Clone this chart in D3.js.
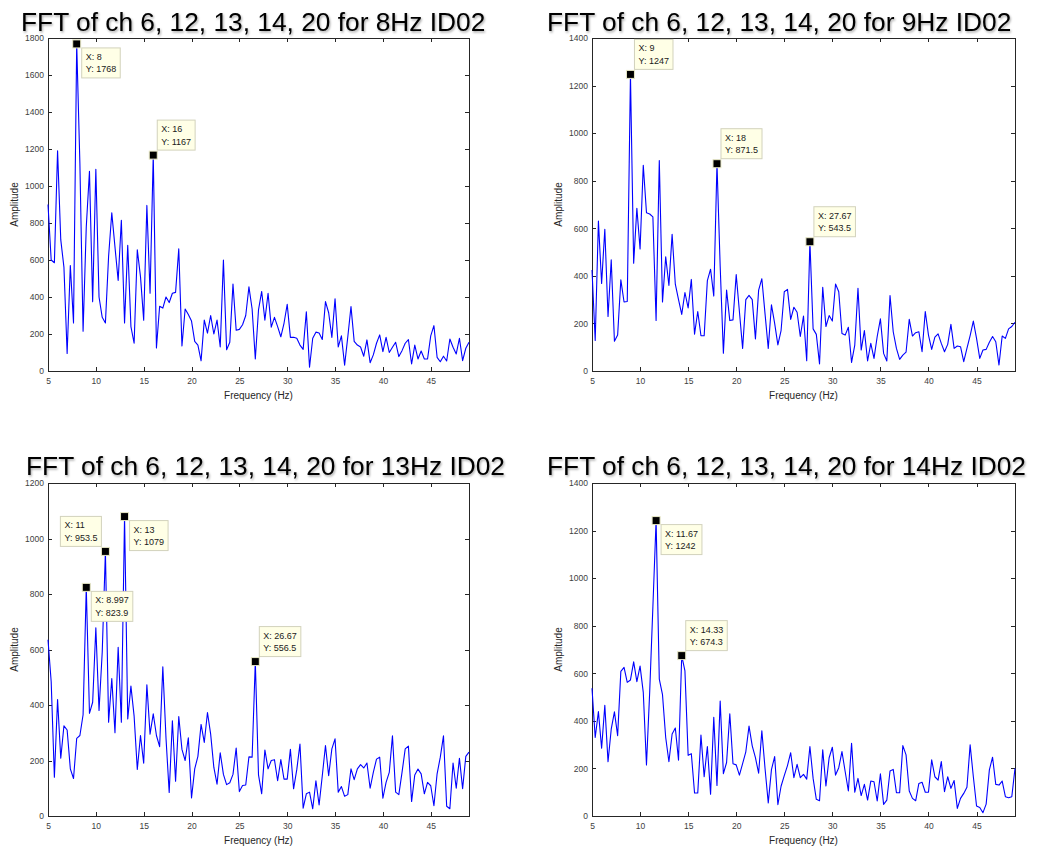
<!DOCTYPE html>
<html lang="en">
<head>
<meta charset="UTF-8">
<title>FFT of ch 6, 12, 13, 14, 20 - ID02</title>
<script src="https://cdn.jsdelivr.net/npm/d3@7/dist/d3.min.js"></script>
<style>
    body { margin:0; background:#fff; }
    .axis path { display:none; }
    .axis line { stroke:#262626; shape-rendering:crispEdges; }
    .axis text { font-family: Arial, "Liberation Sans", sans-serif; font-size:8.5px; fill:#404040; }
    .frame { fill:none; stroke:#262626; shape-rendering:crispEdges; }
    .title { font-family: Arial, "Liberation Sans", sans-serif; font-size:26.3px; fill:#000; }
    .label { font-family: Arial, "Liberation Sans", sans-serif; font-size:10px; fill:#262626; }
    .tip text { font-family: Arial, "Liberation Sans", sans-serif; font-size:9px; fill:#1a1a1a; }
</style>
</head>
<body>
<svg id="chart" width="1039" height="848"></svg>
<script>
// frequency grid: 5 .. 49 Hz in 1/3 Hz bins
var freqStart = 5, freqStep = 1 / 3;
var xTicks = [5, 10, 15, 20, 25, 30, 35, 40, 45];

var amp8Hz = [900, 600, 585, 1190, 710, 560, 95, 570, 260, 1768,
    1120, 215, 780, 1080, 375, 1090, 400, 290, 260, 620,
    855, 670, 490, 815, 260, 680, 240, 150, 655, 510,
    275, 895, 420, 1167, 125, 350, 340, 400, 370, 420,
    425, 660, 135, 335, 305, 270, 160, 140, 55, 275,
    205, 300, 200, 275, 130, 600, 115, 155, 470, 220,
    225, 250, 300, 455, 335, 65, 330, 430, 275, 420,
    237, 290, 240, 185, 258, 360, 182, 182, 177, 140,
    117, 320, 20, 177, 210, 205, 170, 375, 315, 182,
    390, 130, 190, 32, 185, 348, 160, 140, 130, 80,
    168, 45, 87, 150, 195, 105, 182, 100, 128, 155,
    78, 110, 150, 170, 38, 140, 65, 108, 65, 65,
    190, 245, 74, 50, 80, 54, 173, 128, 92, 177,
    56, 123, 155];

var amp9Hz = [425, 128, 630, 368, 596, 229, 467, 125, 151, 383,
    290, 292, 1247, 453, 684, 513, 865, 665, 660, 648,
    212, 885, 290, 480, 360, 575, 365, 300, 238, 330,
    265, 385, 155, 250, 148, 148, 380, 428, 315, 871.5,
    440, 75, 340, 212, 215, 405, 250, 95, 300, 318,
    300, 135, 340, 388, 240, 95, 278, 200, 110, 170,
    333, 343, 217, 268, 247, 145, 231, 43, 543.5, 177,
    154, 30, 352, 187, 233, 210, 366, 333, 158, 151,
    184, 36, 109, 348, 88, 170, 42, 116, 53, 145,
    219, 74, 42, 317, 165, 95, 49, 67, 79, 217,
    147, 161, 165, 81, 250, 151, 91, 142, 156, 116,
    81, 112, 196, 95, 105, 102, 39, 95, 149, 210,
    137, 53, 88, 91, 121, 145, 123, 25, 147, 137,
    177, 187, 205];

var amp13Hz = [635, 484, 140, 420, 208, 325, 310, 170, 135, 280,
    290, 365, 823.9, 370, 410, 678, 380, 590, 953.5, 338,
    495, 300, 608, 338, 1079, 350, 468, 360, 168, 290,
    190, 473, 295, 368, 290, 250, 538, 280, 85, 343,
    125, 358, 240, 200, 282, 65, 170, 215, 330, 265,
    373, 295, 175, 115, 228, 150, 113, 120, 150, 245,
    88, 110, 112, 213, 212, 556.5, 148, 80, 238, 170,
    200, 203, 127, 203, 133, 133, 240, 98, 167, 259,
    28, 80, 86, 26, 127, 40, 145, 254, 145, 242,
    278, 86, 106, 71, 77, 170, 131, 170, 185, 173,
    191, 100, 157, 205, 212, 64, 121, 157, 289, 86,
    77, 157, 242, 252, 52, 148, 169, 152, 80, 121,
    109, 37, 152, 212, 289, 35, 26, 191, 100, 208,
    98, 215, 230];

var amp14Hz = [537, 330, 439, 285, 465, 228, 365, 438, 338, 608,
    625, 562, 572, 648, 565, 630, 520, 215, 520, 880,
    1242, 575, 510, 330, 228, 345, 370, 235, 674.3, 610,
    255, 262, 97, 97, 340, 165, 292, 92, 415, 128,
    483, 178, 225, 430, 220, 215, 172, 220, 270, 378,
    295, 245, 180, 358, 200, 55, 195, 250, 48, 125,
    170, 212, 266, 161, 217, 161, 175, 155, 292, 158,
    70, 64, 278, 126, 245, 289, 172, 203, 271, 187,
    105, 306, 100, 158, 86, 133, 67, 147, 144, 63,
    177, 49, 67, 189, 196, 98, 98, 296, 257, 105,
    74, 64, 137, 142, 100, 100, 236, 165, 151, 229,
    102, 165, 116, 149, 32, 74, 95, 121, 299, 165,
    42, 36, 14, 50, 194, 247, 133, 130, 147, 81,
    77, 81, 200];

var titles = ["FFT of ch 6, 12, 13, 14, 20 for 8Hz ID02",
    "FFT of ch 6, 12, 13, 14, 20 for 9Hz ID02",
    "FFT of ch 6, 12, 13, 14, 20 for 13Hz ID02",
    "FFT of ch 6, 12, 13, 14, 20 for 14Hz ID02"];
var yMax = [1800, 1400, 1200, 1400];

// data tips: bin index of the marked peak, and where the label box sits
var tips8Hz = [{i: 9, x: "8", y: "1768", pos: "se"}, {i: 33, x: "16", y: "1167", pos: "ne"}];
var tips9Hz = [{i: 12, x: "9", y: "1247", pos: "ne"}, {i: 39, x: "18", y: "871.5", pos: "ne"},
    {i: 68, x: "27.67", y: "543.5", pos: "ne"}];
var tips13Hz = [{i: 18, x: "11", y: "953.5", pos: "nw"}, {i: 24, x: "13", y: "1079", pos: "se"},
    {i: 12, x: "8.997", y: "823.9", pos: "se"}, {i: 65, x: "26.67", y: "556.5", pos: "ne"}];
var tips14Hz = [{i: 20, x: "11.67", y: "1242", pos: "se"}, {i: 28, x: "14.33", y: "674.3", pos: "ne"}];

var series = [amp8Hz, amp9Hz, amp13Hz, amp14Hz];
var tips = [tips8Hz, tips9Hz, tips13Hz, tips14Hz];
var boxes = [
    {left: 48, top: 38, w: 421, h: 333, titleX: 21, titleY: 31},
    {left: 592, top: 38, w: 423, h: 333, titleX: 547, titleY: 31},
    {left: 48, top: 483, w: 421, h: 333, titleX: 26, titleY: 475},
    {left: 592, top: 483, w: 423, h: 333, titleX: 547, titleY: 475}
];

var svg = d3.select("#chart");
var defs = svg.append("defs");
var f = defs.append("filter").attr("id", "shadow").attr("x", "-5%").attr("y", "-20%")
    .attr("width", "110%").attr("height", "150%");
f.append("feDropShadow").attr("dx", 1).attr("dy", 1.5).attr("stdDeviation", 1)
    .attr("flood-color", "#000").attr("flood-opacity", 0.35);

function drawPanel(k) {
    var b = boxes[k];
    var amps = series[k];
    var data = amps.map(function (v, i) { return [freqStart + i * freqStep, v]; });

    var x = d3.scaleLinear().domain([5, 49]).range([0, b.w]);
    var y = d3.scaleLinear().domain([0, yMax[k]]).range([b.h, 0]);
    var yTicks = d3.range(0, yMax[k] + 1, 200);

    svg.append("text").attr("class", "title")
        .attr("x", b.titleX).attr("y", b.titleY)
        .attr("filter", "url(#shadow)")
        .text(titles[k]);

    var g = svg.append("g").attr("transform", "translate(" + b.left + "," + b.top + ")");

    g.append("g").attr("class", "axis").attr("transform", "translate(0," + b.h + ")")
        .call(d3.axisBottom(x).tickValues(xTicks).tickSizeInner(-4).tickSizeOuter(0).tickPadding(7));
    g.append("g").attr("class", "axis")
        .call(d3.axisTop(x).tickValues(xTicks).tickSizeInner(-4).tickSizeOuter(0).tickFormat(""));
    g.append("g").attr("class", "axis")
        .call(d3.axisLeft(y).tickValues(yTicks).tickSizeInner(-4).tickSizeOuter(0).tickPadding(4)
            .tickFormat(d3.format("d")));
    g.append("g").attr("class", "axis").attr("transform", "translate(" + b.w + ",0)")
        .call(d3.axisRight(y).tickValues(yTicks).tickSizeInner(-4).tickSizeOuter(0).tickFormat(""));

    g.append("rect").attr("class", "frame").attr("x", 0.5).attr("y", 0.5)
        .attr("width", b.w).attr("height", b.h);

    var line = d3.line().x(function (d) { return x(d[0]); }).y(function (d) { return y(d[1]); });
    g.append("path").datum(data)
        .attr("fill", "none").attr("stroke", "#0000ff").attr("stroke-width", 1.1)
        .attr("stroke-linejoin", "round")
        .attr("d", line);

    g.append("text").attr("class", "label")
        .attr("x", b.w / 2).attr("y", b.h + 28)
        .attr("text-anchor", "middle").text("Frequency (Hz)");
    g.append("text").attr("class", "label")
        .attr("transform", "translate(-30," + (b.h / 2) + ") rotate(-90)")
        .attr("text-anchor", "middle").text("Amplitude");

    tips[k].forEach(function (t) {
        var d = data[t.i];
        var mx = x(d[0]), my = y(d[1]);
        var tip = g.append("g").attr("class", "tip");
        var lines = ["X: " + t.x, "Y: " + t.y];
        var txt = tip.selectAll("text").data(lines).enter().append("text")
            .attr("x", 0).attr("y", function (s, j) { return 12 + j * 12.5; })
            .text(function (s) { return s; });
        var wMax = d3.max(txt.nodes(), function (n) { return n.getComputedTextLength(); });
        var bw = wMax + 8, bh = 30;
        txt.attr("x", 4);
        tip.insert("rect", "text").attr("width", bw).attr("height", bh)
            .attr("fill", "#ffffe6").attr("stroke", "#d2d2bc").attr("stroke-width", 1);
        var bx, by;
        if (t.pos === "se") { bx = mx + 5; by = my + 4; }
        else if (t.pos === "ne") { bx = mx + 4; by = my - 5 - bh; }
        else { bx = mx - 4 - bw; by = my - 5 - bh; }
        tip.attr("transform", "translate(" + bx + "," + by + ")");

        g.append("rect").attr("x", mx - 4).attr("y", my - 4).attr("width", 8).attr("height", 8)
            .attr("fill", "#000").attr("stroke", "#eaeac8").attr("stroke-width", 1);
    });
}

for (var k = 0; k < 4; k++) drawPanel(k);
</script>
</body>
</html>
